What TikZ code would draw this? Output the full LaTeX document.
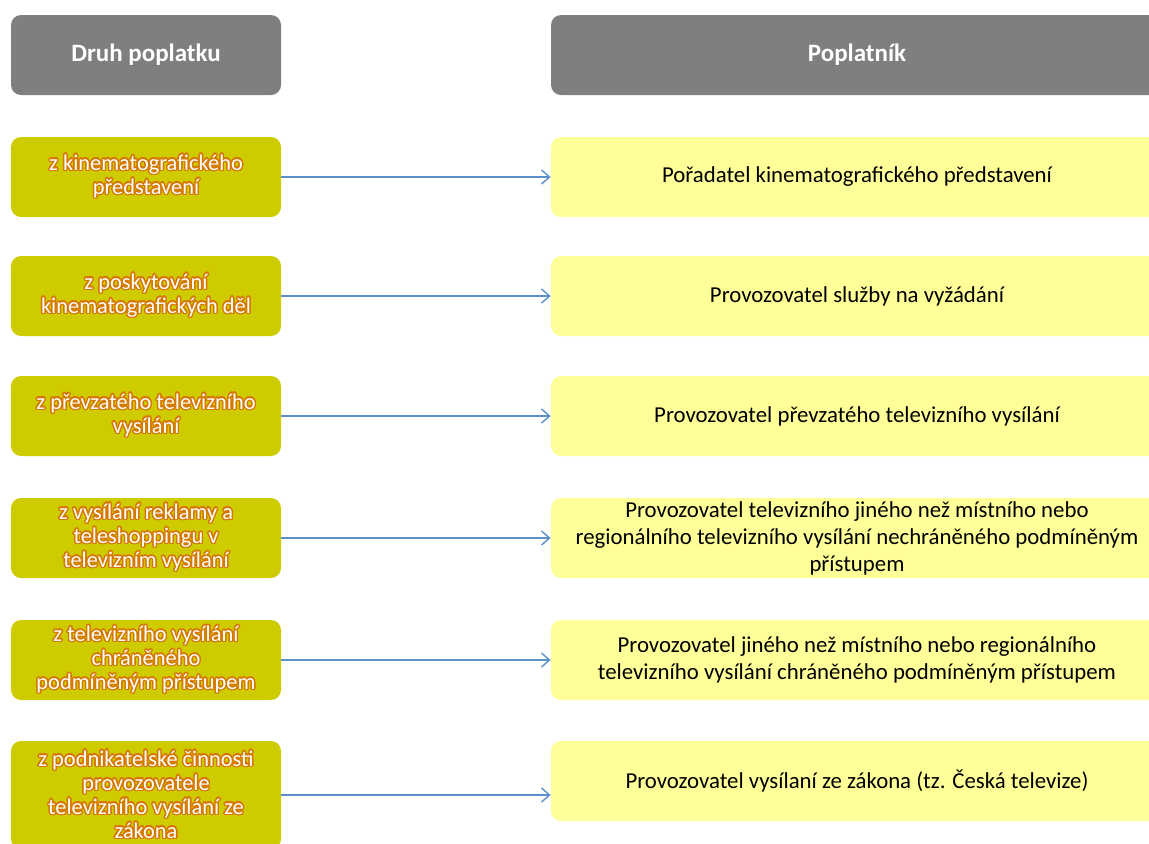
\documentclass[tikz,border=0pt]{standalone}
\usepackage{fontspec}
\setmainfont{Carlito}
\usepackage{contour}
\contourlength{0.7pt}
\usetikzlibrary{arrows.meta}
\definecolor{headgray}{RGB}{127,127,127}
\definecolor{olivebox}{RGB}{206,204,0}
\definecolor{paleyellow}{RGB}{255,255,153}
\definecolor{glowor}{RGB}{214,120,0}
\definecolor{linkblue}{RGB}{91,145,200}
\newcommand{\gl}[1]{\contour{glowor}{#1}}

\begin{document}
\begin{tikzpicture}[x=0.5pt,y=-0.5pt,
    head/.style={fill=headgray,rounded corners=5pt,text=white,
        font=\bfseries\fontsize{12.5}{14}\selectfont,minimum height=40pt},
    fee/.style={fill=olivebox,rounded corners=5pt,minimum width=135pt,
        minimum height=40pt,text=white,align=center,inner sep=0pt,
        font=\fontsize{11.2}{12}\selectfont},
    payer/.style={fill=paleyellow,rounded corners=5pt,minimum width=306pt,
        minimum height=40pt,align=center,inner sep=0pt,
        font=\fontsize{11.4}{13.5}\selectfont},
    link/.style={draw=linkblue,line width=0.7pt,
        -{Straight Barb[length=4pt,width=7pt]}}]
    \useasboundingbox (0,0) rectangle (1149,843);
    % Headers
    \node[head,minimum width=135pt] (h1) at (146,55) {Druh poplatku};
    \node[head,minimum width=306pt] (h2) at (857,55) {Poplatník};
    % Kinds of fee
    \node[fee] (f1) at (146,177) {\gl{z kinematografického}\\\gl{představení}};
    \node[fee] (f2) at (146,296) {\gl{z poskytování}\\\gl{kinematografických děl}};
    \node[fee] (f3) at (146,416) {\gl{z převzatého televizního}\\\gl{vysílání}};
    \node[fee] (f4) at (146,538) {\gl{z vysílání reklamy a}\\\gl{teleshoppingu v}\\\gl{televizním vysílání}};
    \node[fee] (f5) at (146,660) {\gl{z televizního vysílání}\\\gl{chráněného}\\\gl{podmíněným přístupem}};
    \node[fee,minimum height=54pt] (f6) at (146,795) {\gl{z podnikatelské činnosti}\\\gl{provozovatele}\\\gl{televizního vysílání ze}\\\gl{zákona}};
    % Payers
    \node[payer] (p1) at (857,177) {Pořadatel kinematografického představení};
    \node[payer] (p2) at (857,296) {Provozovatel služby na vyžádání};
    \node[payer] (p3) at (857,416) {Provozovatel převzatého televizního vysílání};
    \node[payer] (p4) at (857,538) {Provozovatel televizního jiného než místního nebo\\regionálního televizního vysílání nechráněného podmíněným\\přístupem};
    \node[payer] (p5) at (857,660) {Provozovatel jiného než místního nebo regionálního\\televizního vysílání chráněného podmíněným přístupem};
    \node[payer] (p6) at (857,781) {Provozovatel vysílaní ze zákona (tz. Česká televize)};
    % Arrows
    \foreach \i in {1,...,6} {
        \draw[link] (f\i.east) -- (f\i.east -| p\i.west);
    }
\end{tikzpicture}
\end{document}
